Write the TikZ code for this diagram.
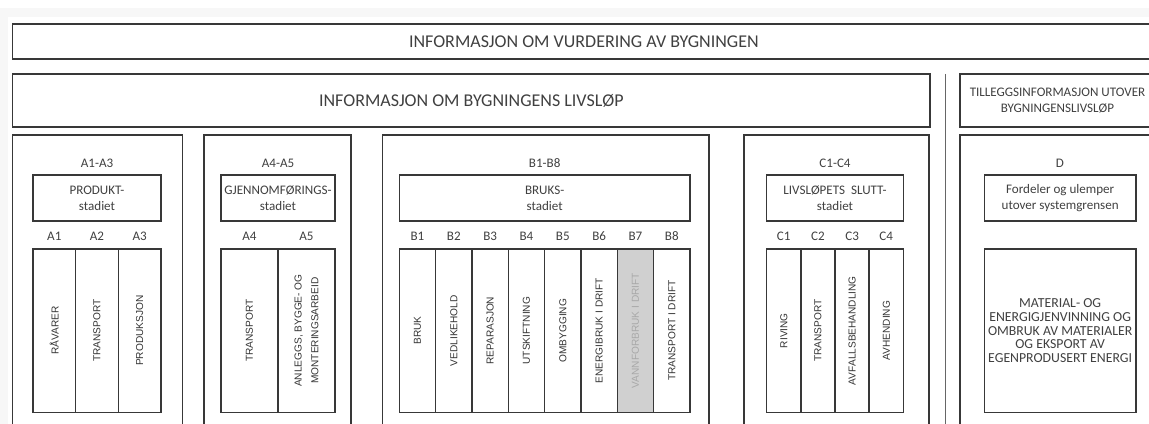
\documentclass[tikz,border=0pt]{standalone}
\usepackage{fontspec}
\setmainfont{Carlito}
\newfontfamily\colfont{Liberation Sans}
\definecolor{linegray}{HTML}{383838}
\definecolor{txtgray}{HTML}{404040}
\definecolor{sepgray}{HTML}{666666}
\definecolor{b7fill}{HTML}{D0D0D0}
\definecolor{b7text}{HTML}{A8A8A8}
\definecolor{pagegray}{HTML}{F7F7F7}

\tikzset{
  box/.style={draw=linegray, line width=1pt, rectangle, inner sep=0pt, outer sep=0pt, text=txtgray, align=center},
  headbox/.style={box, font=\fontsize{12.8}{15}\selectfont},
  stagebox/.style={box, font=\fontsize{9.3}{11.4}\selectfont},
  codetext/.style={text=txtgray, inner sep=0pt, font=\fontsize{9.3}{11}\selectfont},
  colbox/.style={box, rotate=90, minimum width=4.083cm, text=black!80, font=\colfont\fontsize{7.2}{11}\selectfont},
}

\begin{document}
\begin{tikzpicture}
    \useasboundingbox (0,0) rectangle (28.725,-10.6);
    \clip (0,0) rectangle (28.725,-10.6);
    \fill[pagegray] (0,-0.2) rectangle (28.725,-0.425);
    \fill[pagegray] (0,-0.2) rectangle (0.2,-10.6);

    % Vurdering
    \node[headbox, minimum width=28.56cm, minimum height=0.875cm] (vurdering) at (14.596,-1.0375) {INFORMASJON OM VURDERING AV BYGNINGEN};

    % Livslop
    \node[headbox, minimum width=22.93cm, minimum height=1.325cm] (livslop) at (11.784,-2.5125) {INFORMASJON OM BYGNINGENS LIVSLØP};
    \node[stagebox, minimum width=4.875cm, minimum height=1.325cm] (tillegg) at (26.4375,-2.5125) {TILLEGGSINFORMASJON UTOVER\\BYGNINGENSLIVSLØP};

    % Skillelinje
    \coordinate (septop) at (23.625,-1.85);
    \coordinate (sepbot) at (23.625,-10.6);
    \draw[sepgray, line width=0.7pt] (septop) -- (sepbot);

    % Ytre bokser
    \node[box, minimum width=4.25cm, minimum height=7.625cm] (amod) at (2.4425,-7.1875) {};
    \node[box, minimum width=3.675cm, minimum height=7.625cm] (gmod) at (6.9375,-7.1875) {};
    \node[box, minimum width=8.158cm, minimum height=7.625cm] (bmod) at (13.646,-7.1875) {};
    \node[box, minimum width=4.625cm, minimum height=7.625cm] (cmod) at (20.9125,-7.1875) {};
    \node[box, minimum width=5.0cm, minimum height=7.625cm] (dmod) at (26.5,-7.1875) {};

    % Moduler
    \node[codetext] (a13) at (2.425,-4.075) {A1-A3};
    \node[codetext] (a45) at (6.95,-4.075) {A4-A5};
    \node[codetext] (b18) at (13.616,-4.075) {B1-B8};
    \node[codetext] (c14) at (20.875,-4.075) {C1-C4};
    \node[codetext] (dd) at (26.5,-4.075) {D};

    % Stadier
    \node[stagebox, minimum width=3.2cm, minimum height=1.15cm] (produkt) at (2.425,-4.95) {PRODUKT-\\stadiet};
    \node[stagebox, minimum width=2.85cm, minimum height=1.15cm] (gjennomforing) at (6.95,-4.95) {GJENNOMFØRINGS-\\stadiet};
    \node[stagebox, minimum width=7.27cm, minimum height=1.15cm] (bruk) at (13.616,-4.95) {BRUKS-\\stadiet};
    \node[stagebox, minimum width=3.415cm, minimum height=1.15cm] (slutt) at (20.875,-4.95) {LIVSLØPETS\ \ SLUTT-\\stadiet};
    \node[stagebox, minimum width=3.79cm, minimum height=1.15cm] (fordeler) at (26.504,-4.95) {Fordeler og ulemper\\utover systemgrensen};

    % A1-A3
    \node[codetext] (a1) at (1.358,-5.9) {A1};
    \node[codetext] (a2) at (2.425,-5.9) {A2};
    \node[codetext] (a3) at (3.492,-5.9) {A3};
    \node[colbox, minimum height=1.0667cm] (ravarer) at (1.358,-8.266) {RÅVARER};
    \node[colbox, minimum height=1.0667cm] (transporta) at (2.425,-8.266) {TRANSPORT};
    \node[colbox, minimum height=1.0667cm] (produksjon) at (3.492,-8.266) {PRODUKSJON};

    % A4-A5
    \node[codetext] (a4) at (6.2375,-5.9) {A4};
    \node[codetext] (a5) at (7.6625,-5.9) {A5};
    \node[colbox, minimum height=1.425cm] (transportb) at (6.2375,-8.266) {TRANSPORT};
    \node[colbox, minimum height=1.425cm, font=\colfont\fontsize{7.2}{12}\selectfont] (anlegg) at (7.6625,-8.266) {ANLEGGS, BYGGE- OG\\MONTERINGSARBEID};

    % B1-B8
    \node[codetext] (b1) at (10.4367,-5.9) {B1};
    \node[codetext] (b2) at (11.3451,-5.9) {B2};
    \node[codetext] (b3) at (12.2535,-5.9) {B3};
    \node[codetext] (b4) at (13.1619,-5.9) {B4};
    \node[codetext] (b5) at (14.0703,-5.9) {B5};
    \node[codetext] (b6) at (14.9787,-5.9) {B6};
    \node[codetext] (b7) at (15.8871,-5.9) {B7};
    \node[codetext] (b8) at (16.7955,-5.9) {B8};
    \node[colbox, minimum height=0.9084cm] (brukcol) at (10.4367,-8.266) {BRUK};
    \node[colbox, minimum height=0.9084cm] (vedlikehold) at (11.3451,-8.266) {VEDLIKEHOLD};
    \node[colbox, minimum height=0.9084cm] (reparasjon) at (12.2535,-8.266) {REPARASJON};
    \node[colbox, minimum height=0.9084cm] (utskiftning) at (13.1619,-8.266) {UTSKIFTNING};
    \node[colbox, minimum height=0.9084cm] (ombygging) at (14.0703,-8.266) {OMBYGGING};
    \node[colbox, minimum height=0.9084cm] (energi) at (14.9787,-8.266) {ENERGIBRUK I DRIFT};
    \node[colbox, minimum height=0.9084cm, fill=b7fill, text=b7text] (vann) at (15.8871,-8.266) {VANNFORBRUK I DRIFT};
    \node[colbox, minimum height=0.9084cm] (transportc) at (16.7955,-8.266) {TRANSPORT I DRIFT};

    % C1-C4
    \node[codetext] (c1) at (19.5945,-5.9) {C1};
    \node[codetext] (c2) at (20.4485,-5.9) {C2};
    \node[codetext] (c3) at (21.3025,-5.9) {C3};
    \node[codetext] (c4) at (22.1565,-5.9) {C4};
    \node[colbox, minimum height=0.854cm] (riving) at (19.5945,-8.266) {RIVING};
    \node[colbox, minimum height=0.854cm] (transportd) at (20.4485,-8.266) {TRANSPORT};
    \node[colbox, minimum height=0.854cm] (avfall) at (21.3025,-8.266) {AVFALLSBEHANDLING};
    \node[colbox, minimum height=0.854cm] (avhending) at (22.1565,-8.266) {AVHENDING};

    % D
    \node[box, minimum width=3.79cm, minimum height=4.083cm, font=\fontsize{9.8}{9.9}\selectfont] (gjenvinning) at (26.504,-8.266) {MATERIAL- OG\\ENERGIGJENVINNING OG\\OMBRUK AV MATERIALER\\OG EKSPORT AV\\EGENPRODUSERT ENERGI};
\end{tikzpicture}
\end{document}
